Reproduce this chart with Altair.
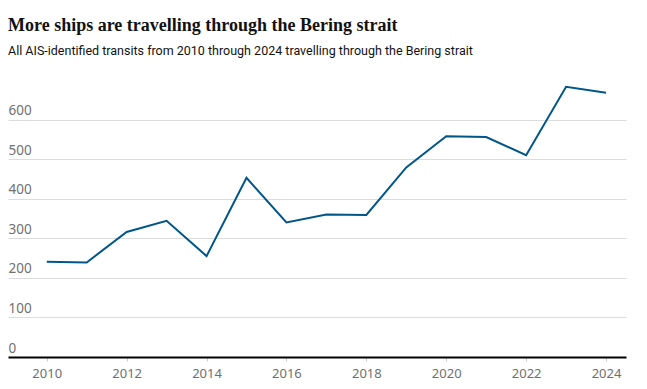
import altair as alt
import pandas as pd

years = [2010, 2011, 2012, 2013, 2014, 2015, 2016, 2017, 2018, 2019, 2020, 2021, 2022, 2023, 2024]
transits = [241, 239, 316, 344, 255, 453, 340, 360, 359, 479, 558, 556, 510, 683, 668]
x_ticks = [2010, 2012, 2014, 2016, 2018, 2020, 2022, 2024]
y_ticks = [0, 100, 200, 300, 400, 500, 600]

title_text = "More ships are travelling through the Bering strait"
subtitle_text = "All AIS-identified transits from 2010 through 2024 travelling through the Bering strait"

df = pd.DataFrame({"year": years, "transits": transits})

chart = alt.Chart(df).mark_line(color="#005689", strokeWidth=2).encode(
    x=alt.X(
        "year:Q",
        scale=alt.Scale(domain=[2009.03, 2024.5], nice=False, zero=False),
        axis=alt.Axis(
            values=x_ticks, format="d", grid=False, title=None,
            domainColor="#000000", domainWidth=2,
            tickColor="#cccccc", tickSize=4, labelPadding=6,
            labelFont="Noto Sans", labelFontSize=13, labelColor="#707070",
            labelFlush=False,
        ),
    ),
    y=alt.Y(
        "transits:Q",
        scale=alt.Scale(domain=[0, 700], nice=False),
        axis=alt.Axis(
            values=y_ticks, title=None, domain=False, ticks=False, tickSize=0,
            grid=True, gridColor="#dcdcdc", gridWidth=1,
            labelAlign="left", labelBaseline="alphabetic", labelPadding=0,
            labelOffset=-5,
            labelFont="Noto Sans", labelFontSize=13.5, labelColor="#707070",
        ),
    ),
).properties(
    width=618,
    height=277,
    autosize=alt.AutoSizeParams(type="none"),
    padding={"left": 0, "top": 72, "right": 13, "bottom": 24},
    title=alt.TitleParams(
        text=title_text,
        subtitle=subtitle_text,
        anchor="start",
        font="Liberation Serif", fontSize=18, fontWeight="bold", color="#121212",
        subtitleFont="Roboto", subtitleFontSize=12.5, subtitleColor="#121212",
        subtitlePadding=10,
        offset=23,
    ),
).configure(background="white").configure_view(stroke=None)

chart.save("out.html", embed_options={"renderer": "svg", "actions": False})
